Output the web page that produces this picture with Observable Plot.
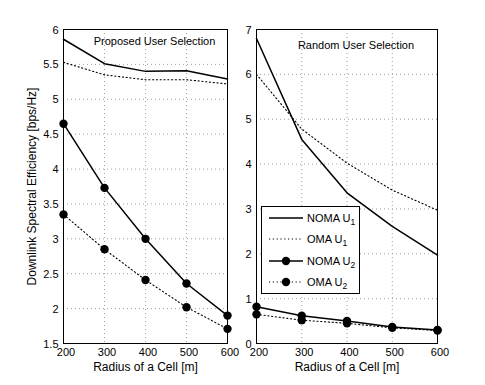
<!DOCTYPE html>
<html>
<head>
<meta charset="utf-8">
<script src="https://cdn.jsdelivr.net/npm/d3@7"></script>
<script src="https://cdn.jsdelivr.net/npm/@observablehq/plot@0.6"></script>
<style>
  html, body { margin: 0; padding: 0; background: #fff; }
  #wrap { position: relative; width: 485px; height: 385px; font-family: "Liberation Sans", Arial, sans-serif; }
  #left, #right { position: absolute; top: 0; }
  #left { left: 0; }
  #right { left: 240px; }
  #legend { position: absolute; left: 261px; top: 206px; width: 99px; height: 88px; background: #fff; border: 1px solid #000; box-sizing: border-box; font-size: 11px; }
  .row { position: absolute; left: 6px; height: 16px; display: flex; align-items: center; }
  .row span { margin-left: 3px; white-space: nowrap; }
  sub { font-size: 8.5px; vertical-align: -3px; line-height: 0; }
</style>
</head>
<body>
<div id="wrap">
  <div id="left"></div>
  <div id="right"></div>
  <div id="legend"></div>
</div>
<script>
const radius = [200, 300, 400, 500, 600];
const propNomaU1 = [5.86, 5.51, 5.40, 5.41, 5.29];
const propOmaU1  = [5.53, 5.35, 5.28, 5.28, 5.22];
const propNomaU2 = [4.65, 3.73, 3.00, 2.36, 1.90];
const propOmaU2  = [3.35, 2.85, 2.41, 2.02, 1.71];
const randNomaU1 = [6.80, 4.55, 3.36, 2.61, 1.97];
const randOmaU1  = [6.00, 4.78, 4.02, 3.42, 2.97];
const randNomaU2 = [0.82, 0.62, 0.50, 0.37, 0.30];
const randOmaU2  = [0.65, 0.52, 0.45, 0.35, 0.29];
const leftYTicks = [1.5, 2, 2.5, 3, 3.5, 4, 4.5, 5, 5.5, 6];
const rightYTicks = [0, 1, 2, 3, 4, 5, 6, 7];
const seriesNames = ["NOMA U1", "OMA U1", "NOMA U2", "OMA U2"];
const xLabel = "Radius of a Cell [m]";
const yLabel = "Downlink Spectral Efficiency [bps/Hz]";

function rows(vals) { return radius.map((r, i) => ({r, v: vals[i]})); }

const solid = {stroke: "black", strokeWidth: 1.5};
const dotted = {stroke: "black", strokeWidth: 1.1, strokeDasharray: "1.2,2.6"};

function panel(opts) {
  const {width, ml, mr, domain, ticks, data, title, dx, dy, ylabel} = opts;
  const marks = [
    Plot.gridX(radius, {stroke: "#888", strokeOpacity: 1, strokeWidth: 0.8, strokeDasharray: "1,3"}),
    Plot.gridY(ticks, {stroke: "#888", strokeOpacity: 1, strokeWidth: 0.8, strokeDasharray: "1,3"}),
    Plot.axisX(radius, {tickSize: 0, tickPadding: 4.5, dx: 2.5, tickFormat: d => String(d), label: null, fontSize: 11}),
    Plot.axisY(ticks, {tickSize: 0, tickPadding: 5, dy: 0.5, tickFormat: d => String(d), label: null, fontSize: 11}),
    Plot.text([xLabel], {frameAnchor: "bottom", dy: 24, lineAnchor: "middle", text: d => d, fontSize: 12, fill: "black"}),
    Plot.line(rows(data[0]), {x: "r", y: "v", ...solid}),
    Plot.line(rows(data[1]), {x: "r", y: "v", ...dotted}),
    Plot.line(rows(data[2]), {x: "r", y: "v", ...solid}),
    Plot.line(rows(data[3]), {x: "r", y: "v", ...dotted}),
    Plot.dot(rows(data[2]), {x: "r", y: "v", r: 4.2, fill: "black"}),
    Plot.dot(rows(data[3]), {x: "r", y: "v", r: 4.2, fill: "black"}),
    Plot.frame({stroke: "black", strokeWidth: 1}),
    Plot.text([title], {frameAnchor: "top", dx, dy, lineAnchor: "middle", text: d => d, fontSize: 11, fill: "black"})
  ];
  if (ylabel) {
    marks.push(Plot.text([ylabel], {frameAnchor: "left", dx: -31, rotate: -90, lineAnchor: "middle", textAnchor: "middle", text: d => d, fontSize: 12, fill: "black"}));
  }
  return Plot.plot({
    width, height: 385,
    marginLeft: ml, marginRight: mr, marginTop: 29, marginBottom: 42,
    x: {domain: [200, 600], axis: null},
    y: {domain, axis: null},
    style: {fontFamily: "Liberation Sans, Arial, sans-serif", fontSize: "11px", color: "black", background: "white", overflow: "visible"},
    marks
  });
}

document.getElementById("left").appendChild(panel({
  width: 240, ml: 63, mr: 13, domain: [1.5, 6], ticks: leftYTicks,
  data: [propNomaU1, propOmaU1, propNomaU2, propOmaU2],
  title: "Proposed User Selection", dx: 9, dy: 12,
  ylabel: yLabel
}));
document.getElementById("right").appendChild(panel({
  width: 245, ml: 16, mr: 48, domain: [0, 7], ticks: rightYTicks,
  data: [randNomaU1, randOmaU1, randNomaU2, randOmaU2],
  title: "Random User Selection", dx: 9, dy: 16,
  ylabel: null
}));

// legend
const legend = document.getElementById("legend");
const styles = [
  {dash: null, dot: false, w: 1.5},
  {dash: "1.2,2.6", dot: false, w: 1.1},
  {dash: null, dot: true, w: 1.5},
  {dash: "1.2,2.6", dot: true, w: 1.1}
];
seriesNames.forEach((name, i) => {
  const row = document.createElement("div");
  row.className = "row";
  row.style.top = (3 + i * 21.3) + "px";
  const s = styles[i];
  const ns = "http://www.w3.org/2000/svg";
  const svg = document.createElementNS(ns, "svg");
  svg.setAttribute("width", 36); svg.setAttribute("height", 12);
  const ln = document.createElementNS(ns, "line");
  ln.setAttribute("x1", 1); ln.setAttribute("x2", 35); ln.setAttribute("y1", 6); ln.setAttribute("y2", 6);
  ln.setAttribute("stroke", "black"); ln.setAttribute("stroke-width", s.w);
  if (s.dash) ln.setAttribute("stroke-dasharray", s.dash);
  svg.appendChild(ln);
  if (s.dot) {
    const c = document.createElementNS(ns, "circle");
    c.setAttribute("cx", 18); c.setAttribute("cy", 6); c.setAttribute("r", 4.2); c.setAttribute("fill", "black");
    svg.appendChild(c);
  }
  row.appendChild(svg);
  const [a, b] = name.split(" U");
  const span = document.createElement("span");
  span.innerHTML = a + " U<sub>" + b + "</sub>";
  row.appendChild(span);
  legend.appendChild(row);
});
</script>
</body>
</html>
